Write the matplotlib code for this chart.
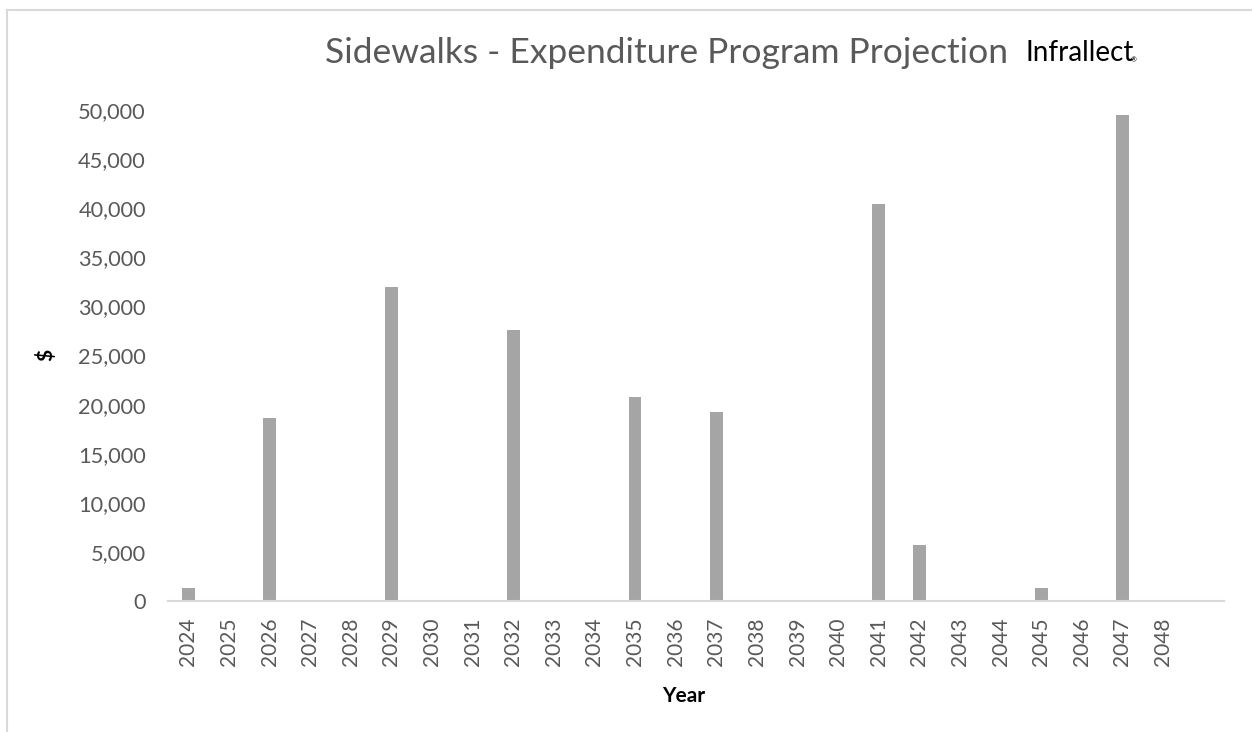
import matplotlib.pyplot as plt
from matplotlib.lines import Line2D
import numpy as np

# expenditure per year (in $)
# the source sheet has one trailing blank category after 2048
years = [str(y) for y in range(2024, 2049)] + ['']
spend = [1300, 0, 18650, 0, 0, 32000, 0, 0, 27600, 0, 0, 20750, 0, 19250,
         0, 0, 0, 40400, 5700, 0, 0, 1300, 0, 49500, 0, 0]
y_ticks = np.arange(0, 50001, 5000)

plt.rcParams['font.family'] = ['Lato', 'DejaVu Sans']

fig = plt.figure(figsize=(12.52, 7.32), dpi=100)
ax = fig.add_axes([168 / 1252, 1 - 601 / 732, (1224 - 168) / 1252, (601 - 110) / 732])

x = np.arange(len(years))
ax.bar(x, spend, width=0.31, color='#A5A5A5', zorder=2)

ax.set_xlim(-0.5, len(years) - 0.5)
ax.set_ylim(0, 50000)
ax.set_yticks(y_ticks)
ax.set_yticklabels([f'{v:,}' for v in y_ticks])
ax.set_xticks(x)
ax.set_xticklabels(years, rotation=90)
ax.tick_params(axis='both', length=0, labelcolor='#595959')
ax.tick_params(axis='y', pad=16, labelsize=15.7)
ax.tick_params(axis='x', pad=12, labelsize=15)

for s in ['top', 'right', 'left']:
    ax.spines[s].set_visible(False)
ax.spines['bottom'].set_color('#D9D9D9')
ax.spines['bottom'].set_linewidth(1.5)

ax.set_xlabel('Year', fontsize=15, fontweight='bold', color='black')
ax.set_ylabel('$', fontsize=15, fontweight='bold', color='black')
ax.xaxis.set_label_coords((684 - 168) / (1224 - 168), -(686 - 601) / 491)
ax.yaxis.set_label_coords(-(168 - 56) / (1224 - 168), (601 - 355) / 491)

fig.text(667 / 1252, 1 - 53 / 732, 'Sidewalks - Expenditure Program Projection',
         ha='center', va='center', fontsize=25.5, color='#595959')
fig.text(1025 / 1252, 1 - 53 / 732, 'Infrallect', ha='left', va='center',
         fontsize=20, color='black')
fig.text(1131 / 1252, 1 - 60 / 732, '®', ha='left', va='center', fontsize=5, color='black')

# chart area border (left and top edges visible)
fig.add_artist(Line2D([7 / 1252, 7 / 1252], [0, 1 - 10 / 732], color='#D9D9D9', lw=1.5))
fig.add_artist(Line2D([7 / 1252, 1], [1 - 10 / 732, 1 - 10 / 732], color='#D9D9D9', lw=1.5))

fig.savefig('out.png', dpi=100)
